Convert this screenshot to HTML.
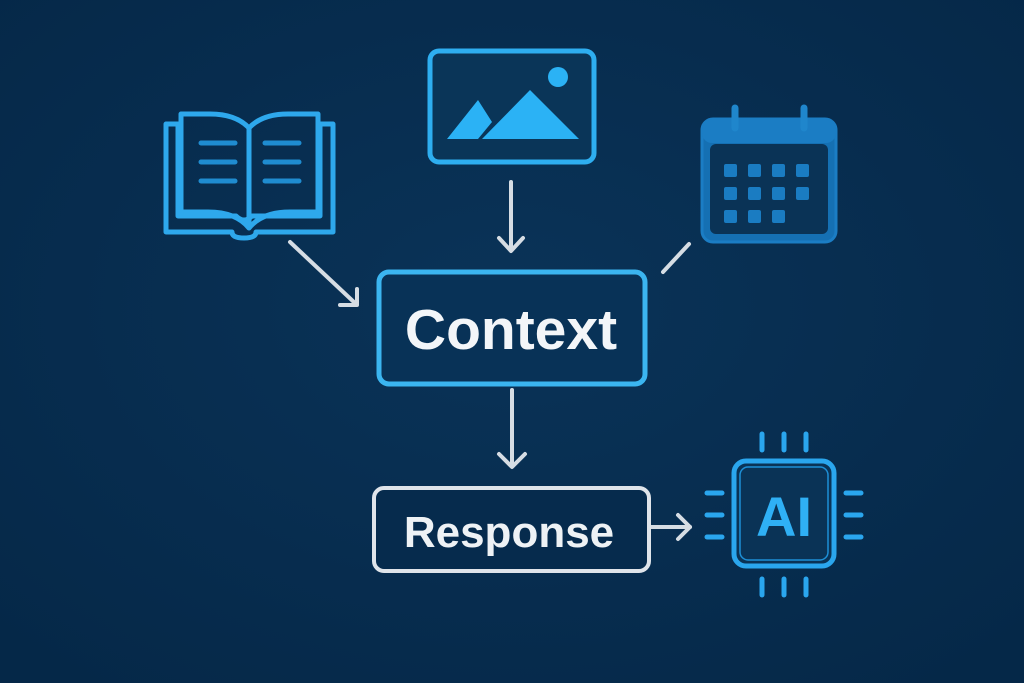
<!DOCTYPE html>
<html><head><meta charset="utf-8"><style>
html,body{margin:0;padding:0;background:#062b4d;}
svg{display:block}
</style></head><body>
<svg width="1024" height="683" viewBox="0 0 1024 683" xmlns="http://www.w3.org/2000/svg">
<defs>
<radialGradient id="bg" cx="50%" cy="45%" r="70%">
<stop offset="0" stop-color="#0a3358"/><stop offset="1" stop-color="#052848"/>
</radialGradient>
</defs>
<rect width="1024" height="683" fill="url(#bg)"/>

<!-- Book -->
<g fill="none" stroke="#2ea8ec" stroke-width="5" stroke-linejoin="round">
<path d="M166 124 H178 V216 H236 Q244 224 252 216 H320 V124 H333 V232 H256 Q256 238 244 238 Q232 238 232 232 H166 Z"/>
<path d="M181 114 H210 Q236 114 249 128 Q262 114 288 114 H318 V212 H290 Q262 212 249 228 Q236 212 208 212 H181 Z"/>
<line x1="249" y1="128" x2="249" y2="228"/>
</g>
<g stroke="#1f8cd0" stroke-width="5" stroke-linecap="round">
<line x1="201" y1="143" x2="235" y2="143"/><line x1="201" y1="162" x2="235" y2="162"/><line x1="201" y1="181" x2="235" y2="181"/>
<line x1="265" y1="143" x2="299" y2="143"/><line x1="265" y1="162" x2="299" y2="162"/><line x1="265" y1="181" x2="299" y2="181"/>
</g>

<!-- Image -->
<rect x="430" y="51" width="164" height="111" rx="9" fill="#0a3558" stroke="#2eaef0" stroke-width="5"/>
<circle cx="558" cy="77" r="10" fill="#2bb2f5"/>
<path d="M447 139 L478 100 L492 122 L478 139 Z" fill="#2bb2f5"/>
<path d="M482 139 L530 90 L579 139 Z" fill="#2bb2f5"/>

<!-- Calendar -->
<rect x="702" y="119" width="134" height="123" rx="11" fill="#1570b3" stroke="#1b7dc4" stroke-width="3"/>
<rect x="710" y="144" width="118" height="90" rx="6" fill="#0a3356"/>
<rect x="702" y="119" width="134" height="24" rx="10" fill="#1b7dc4"/>
<line x1="735" y1="108" x2="735" y2="128" stroke="#1f86cc" stroke-width="7" stroke-linecap="round"/>
<line x1="804" y1="108" x2="804" y2="128" stroke="#1f86cc" stroke-width="7" stroke-linecap="round"/>
<g fill="#1a7cc2">
<rect x="724" y="164" width="13" height="13" rx="2"/><rect x="748" y="164" width="13" height="13" rx="2"/><rect x="772" y="164" width="13" height="13" rx="2"/><rect x="796" y="164" width="13" height="13" rx="2"/>
<rect x="724" y="187" width="13" height="13" rx="2"/><rect x="748" y="187" width="13" height="13" rx="2"/><rect x="772" y="187" width="13" height="13" rx="2"/><rect x="796" y="187" width="13" height="13" rx="2"/>
<rect x="724" y="210" width="13" height="13" rx="2"/><rect x="748" y="210" width="13" height="13" rx="2"/><rect x="772" y="210" width="13" height="13" rx="2"/>
</g>

<!-- connectors -->
<g stroke="#d6dde4" stroke-width="4" fill="none" stroke-linecap="round" stroke-linejoin="round">
<line x1="511" y1="182" x2="511" y2="250"/><polyline points="499,238 511,251 523,238"/>
<line x1="290" y1="242" x2="356" y2="304"/><polyline points="340,305 357,305 357,289"/>
<line x1="663" y1="272" x2="689" y2="244"/>
<line x1="512" y1="390" x2="512" y2="466"/><polyline points="499,454 512,467 525,454"/>
<line x1="651" y1="527" x2="690" y2="527"/><polyline points="678,515 690,527 678,539"/>
</g>

<!-- Context -->
<rect x="379" y="272" width="266" height="112" rx="10" fill="#083257" stroke="#3bb5f0" stroke-width="5"/>
<text x="511" y="349" text-anchor="middle" font-family="Liberation Sans, sans-serif" font-weight="bold" font-size="57" fill="#f3f6f9">Context</text>

<!-- Response -->
<rect x="374" y="488" width="275" height="83" rx="10" fill="#062b4d" stroke="#dfe4ea" stroke-width="4"/>
<text x="509" y="547" text-anchor="middle" font-family="Liberation Sans, sans-serif" font-weight="bold" font-size="44" fill="#eef2f5">Response</text>

<!-- AI chip -->
<g stroke="#2aa6ee" stroke-width="5" stroke-linecap="round">
<line x1="762" y1="434" x2="762" y2="450"/><line x1="784" y1="434" x2="784" y2="450"/><line x1="806" y1="434" x2="806" y2="450"/>
<line x1="762" y1="579" x2="762" y2="595"/><line x1="784" y1="579" x2="784" y2="595"/><line x1="806" y1="579" x2="806" y2="595"/>
<line x1="707" y1="493" x2="722" y2="493"/><line x1="707" y1="515" x2="722" y2="515"/><line x1="707" y1="537" x2="722" y2="537"/>
<line x1="846" y1="493" x2="861" y2="493"/><line x1="846" y1="515" x2="861" y2="515"/><line x1="846" y1="537" x2="861" y2="537"/>
</g>
<rect x="734" y="461" width="100" height="105" rx="12" fill="#0a3356" stroke="#2aa6ee" stroke-width="5"/>
<rect x="740" y="467" width="88" height="93" rx="8" fill="none" stroke="#1d8fd6" stroke-width="1.5"/>
<text x="784" y="536" text-anchor="middle" font-family="Liberation Sans, sans-serif" font-weight="bold" font-size="56" fill="#2fb0f5">AI</text>
</svg>
</body></html>
